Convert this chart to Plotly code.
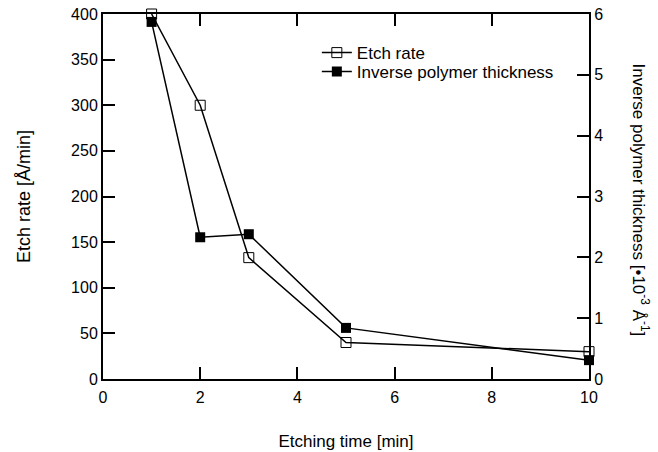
import plotly.graph_objects as go

time_min = [1, 2, 3, 5, 10]
etch_rate = [400, 300, 133, 40, 30]
inv_thickness = [5.87, 2.33, 2.38, 0.84, 0.31]

x_ticks = [0, 2, 4, 6, 8, 10]
y1_ticks = [0, 50, 100, 150, 200, 250, 300, 350, 400]
y2_ticks = [0, 1, 2, 3, 4, 5, 6]

FONT = "Liberation Sans, Arial, sans-serif"
FS = 16
FT = 17

fig = go.Figure()
fig.add_trace(go.Scatter(
    x=time_min, y=etch_rate, name="Etch rate", mode="lines+markers",
    line=dict(color="black", width=1.5),
    marker=dict(symbol="square-open", size=10, color="black", line=dict(width=1, color="black")),
    cliponaxis=False, yaxis="y", legend="legend"))
fig.add_trace(go.Scatter(
    x=time_min, y=inv_thickness, name="Inverse polymer thickness", mode="lines+markers",
    line=dict(color="black", width=1.5),
    marker=dict(symbol="square", size=10, color="black"),
    cliponaxis=False, yaxis="y2", legend="legend2"))

axis_common = dict(showgrid=False, zeroline=False, showline=True, linecolor="black", linewidth=2,
                   ticks="inside", ticklen=12, tickwidth=2, tickcolor="black", automargin=False,
                   tickfont=dict(family=FONT, size=FS, color="black"))

leg_common = dict(xanchor="left", yanchor="middle", bgcolor="rgba(0,0,0,0)",
                  font=dict(family=FONT, size=FT, color="black"), itemwidth=30,
                  borderwidth=0, tracegroupgap=0)

fig.update_layout(
    width=658, height=452,
    margin=dict(l=103, r=69, t=14, b=73, autoexpand=False),
    paper_bgcolor="white", plot_bgcolor="white",
    font=dict(family=FONT, size=FS, color="black"),
    xaxis=dict(range=[0, 10], tickvals=x_ticks, mirror="ticks", ticklabelstandoff=3,
               title=dict(text="Etching time [min]", font=dict(family=FONT, size=FT), standoff=30),
               **axis_common),
    yaxis=dict(range=[0, 400], tickvals=y1_ticks,
               title=dict(text="Etch rate [Å/min]", font=dict(family=FONT, size=18), standoff=36),
               **axis_common),
    yaxis2=dict(range=[0, 6], tickvals=y2_ticks, overlaying="y", side="right",
                **axis_common),
    legend=dict(x=0.44, y=0.893, **leg_common),
    legend2=dict(x=0.44, y=0.841, **leg_common),
    showlegend=True,
    annotations=[dict(
        text="Inverse polymer thickness [•10<sup>-3</sup> Å<sup>-1</sup>]",
        xref="paper", yref="paper", x=1, y=0.5, xshift=52, yshift=-3, textangle=90,
        showarrow=False, font=dict(family=FONT, size=FT, color="black"),
        xanchor="center", yanchor="middle")],
)

fig.write_html("out.html")
